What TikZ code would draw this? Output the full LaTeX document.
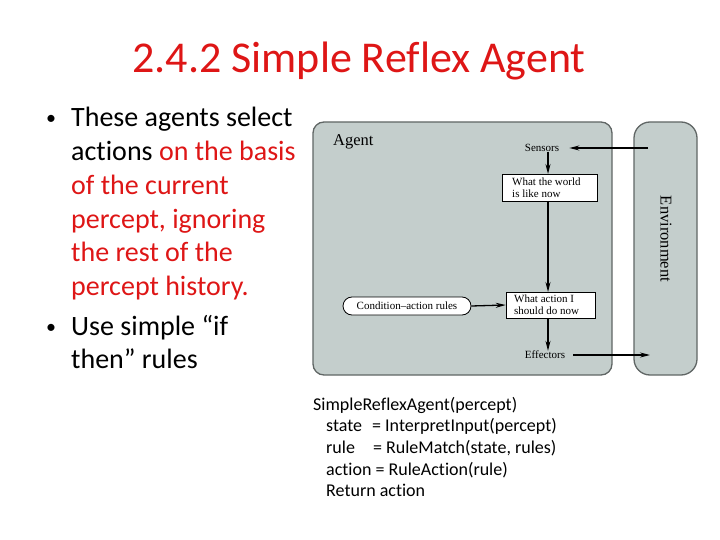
\documentclass[tikz,border=0pt]{standalone}
\usepackage{fontspec}
\setmainfont{Carlito}[Ligatures={NoCommon,NoContextual}]
\newfontfamily\figfont{Liberation Serif}
\usetikzlibrary{arrows.meta}

\definecolor{titlered}{RGB}{222,22,22}
\definecolor{agentfill}{RGB}{196,206,204}
\definecolor{agentedge}{RGB}{96,102,101}

\tikzset{
  panel/.style={draw=agentedge, line width=1.3pt, fill=agentfill},
  rulebox/.style={draw, fill=white, line width=0.6pt, inner sep=0pt,
    minimum width=95pt, minimum height=27pt},
  boxtext/.style={align=left, anchor=west, inner sep=0pt,
    font=\figfont\fontsize{11}{12}\selectfont},
  smalltext/.style={font=\figfont\fontsize{11}{12}\selectfont},
  bigtext/.style={font=\figfont\fontsize{16.5}{18}\selectfont},
  flow/.style={->, line width=1.3pt}
}

\begin{document}
\begin{tikzpicture}[x=1pt, y=-1pt, >={Stealth[length=10pt,width=5pt]}]
  \useasboundingbox (0,0) rectangle (720,540);

  % --- 1. title ---
  \node[titlered, font=\fontsize{44}{50}\selectfont, anchor=base, inner sep=0]
    (title) at (359,73) {2.4.2 Simple Reflex Agent};

  % --- 2. bullet points ---
  \def\lineSkip{33.7}
  \node[anchor=base west, inner sep=0, font=\fontsize{20}{24}\selectfont]
    (dotA) at (46,125) {•};
  \foreach \txt [count=\i from 0] in {These agents select,
      actions \textcolor{titlered}{on the basis},
      \textcolor{titlered}{of the current},
      \textcolor{titlered}{percept{,} ignoring},
      \textcolor{titlered}{the rest of the},
      \textcolor{titlered}{percept history.}}
    \node[anchor=base west, inner sep=0, font=\fontsize{28}{34}\selectfont]
      (lineA\i) at (71,127+\lineSkip*\i) {\txt};

  \node[anchor=base west, inner sep=0, font=\fontsize{20}{24}\selectfont]
    (dotB) at (46,333) {•};
  \foreach \txt [count=\i from 0] in {Use simple “if, then” rules}
    \node[anchor=base west, inner sep=0, font=\fontsize{28}{34}\selectfont]
      (lineB\i) at (71,335+\lineSkip*\i) {\txt};

  % --- 3. agent and environment panels ---
  \draw[panel, rounded corners=11pt] (313,122) rectangle (612,375);
  \draw[panel, rounded corners=16pt] (634,122) rectangle (697,375);
  \node[bigtext, anchor=base west, inner sep=0] (agentlbl) at (333,146) {Agent};
  \node[bigtext, rotate=-90, inner sep=0] (envlbl) at (666,239) {Environment};

  % --- 4. inner boxes ---
  \node[smalltext, inner sep=0] (sensors) at (542,148) {Sensors};
  \node[rulebox, minimum width=95pt, minimum height=27pt] (world) at (549.5,187.5) {};
  \node[boxtext] (worldtxt) at (512,187.5) {What the world\\is like now};
  \node[rulebox, minimum width=89pt, minimum height=26pt] (action) at (550.5,305) {};
  \node[boxtext] (actiontxt) at (514,305) {What action I\\should do now};
  \node[draw, fill=white, line width=0.8pt, rounded corners=9pt, smalltext,
    minimum width=128pt, minimum height=18pt, inner sep=0] (cond) at (407,306)
    {Condition–action rules};
  \node[smalltext, inner sep=0] (effectors) at (545,355) {Effectors};

  % --- 5. connectors ---
  \coordinate (envin) at (648,148);
  \coordinate (envout) at (650,355);
  \draw[flow, shorten >=10pt] (envin) -- (sensors);
  \draw[flow] (sensors.south -| 548,0) -- (548,174);
  \draw[flow] (548,201) -- (548,292);
  \draw[flow] (cond.east) -- (action.west);
  \draw[flow] (548,318) -- (effectors.north -| 548,0);
  \draw[flow, shorten <=8pt] (effectors.east) -- (envout);

  % --- 6. pseudo code ---
  \def\codeSkip{21.7}
  \node[anchor=base west, inner sep=0, font=\fontsize{18}{21}\selectfont]
    (code0) at (313,410) {SimpleReflexAgent(percept)};
  \foreach \txt [count=\i] in {state\hspace{6pt} = InterpretInput(percept),
      rule\hspace{14pt} = RuleMatch(state{,} rules),
      action = RuleAction(rule),
      Return action}
    \node[anchor=base west, inner sep=0, font=\fontsize{18}{21}\selectfont]
      (code\i) at (326,410+\codeSkip*\i) {\txt};

\end{tikzpicture}
\end{document}
